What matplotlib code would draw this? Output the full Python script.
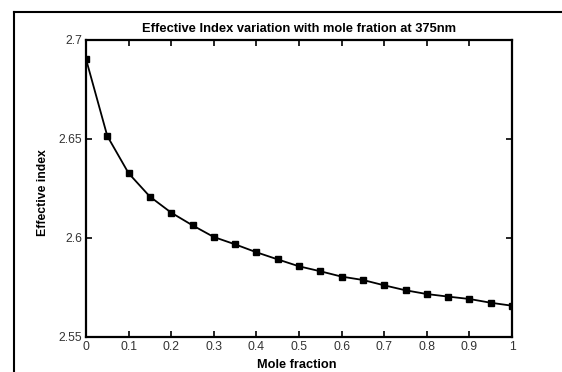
import numpy as np
import matplotlib
matplotlib.use("Agg")
import matplotlib.pyplot as plt
from matplotlib.lines import Line2D

plt.rcParams['font.family'] = ['Liberation Sans', 'DejaVu Sans']

# mole fraction vs effective index at 375nm
mole_fraction = [0.0, 0.05, 0.1, 0.15, 0.2, 0.25, 0.3, 0.35, 0.4, 0.45, 0.5,
                 0.55, 0.6, 0.65, 0.7, 0.75, 0.8, 0.85, 0.9, 0.95, 1.0]
eff_index = [2.6904, 2.6515, 2.6327, 2.6209, 2.6128, 2.6064, 2.6005, 2.5968,
             2.5928, 2.5892, 2.5857, 2.5832, 2.5805, 2.5788, 2.5761, 2.5736,
             2.5717, 2.5704, 2.5692, 2.5673, 2.5658]

xticks = [0, 0.1, 0.2, 0.3, 0.4, 0.5, 0.6, 0.7, 0.8, 0.9, 1]
xticklabels = ["0", "0.1", "0.2", "0.3", "0.4", "0.5", "0.6", "0.7", "0.8", "0.9", "1"]
yticks = [2.55, 2.6, 2.65, 2.7]
yticklabels = ["2.55", "2.6", "2.65", "2.7"]

fig = plt.figure(figsize=(5.62, 3.72), dpi=100)
ax = fig.add_axes([86 / 562, 1 - 337 / 372, (512 - 86) / 562, (337 - 40) / 372])

ax.plot(mole_fraction, eff_index, color="black", lw=1.3, marker="s", ms=3.8,
        mfc="black", mec="black")

ax.set_xlim(0, 1)
ax.set_ylim(2.55, 2.7)
ax.set_xticks(xticks)
ax.set_xticklabels(xticklabels)
ax.set_yticks(yticks)
ax.set_yticklabels(yticklabels)
ax.tick_params(direction="in", length=4, width=1.2, top=True, right=True,
               labelsize=8.8, labelcolor="#333333", pad=3)
for s in ax.spines.values():
    s.set_linewidth(1.6)

ax.set_title("Effective Index variation with mole fration at 375nm",
             fontsize=9.3, fontweight="bold", pad=6)
ax.set_xlabel("Mole fraction", fontsize=9.2, fontweight="bold")
ax.set_ylabel("Effective index", fontsize=8.8, fontweight="bold")
ax.xaxis.set_label_coords(0.495, -0.074)
ax.yaxis.set_label_coords(-0.087, 0.485)

# the border left around the picture (top and left only)
fig.add_artist(Line2D([14 / 562, 14 / 562], [0, 1 - 12 / 372], color="black", lw=1.5,
                      transform=fig.transFigure))
fig.add_artist(Line2D([14 / 562, 1], [1 - 12 / 372, 1 - 12 / 372], color="black", lw=1.5,
                      transform=fig.transFigure))

fig.savefig("out.png", dpi=100)
